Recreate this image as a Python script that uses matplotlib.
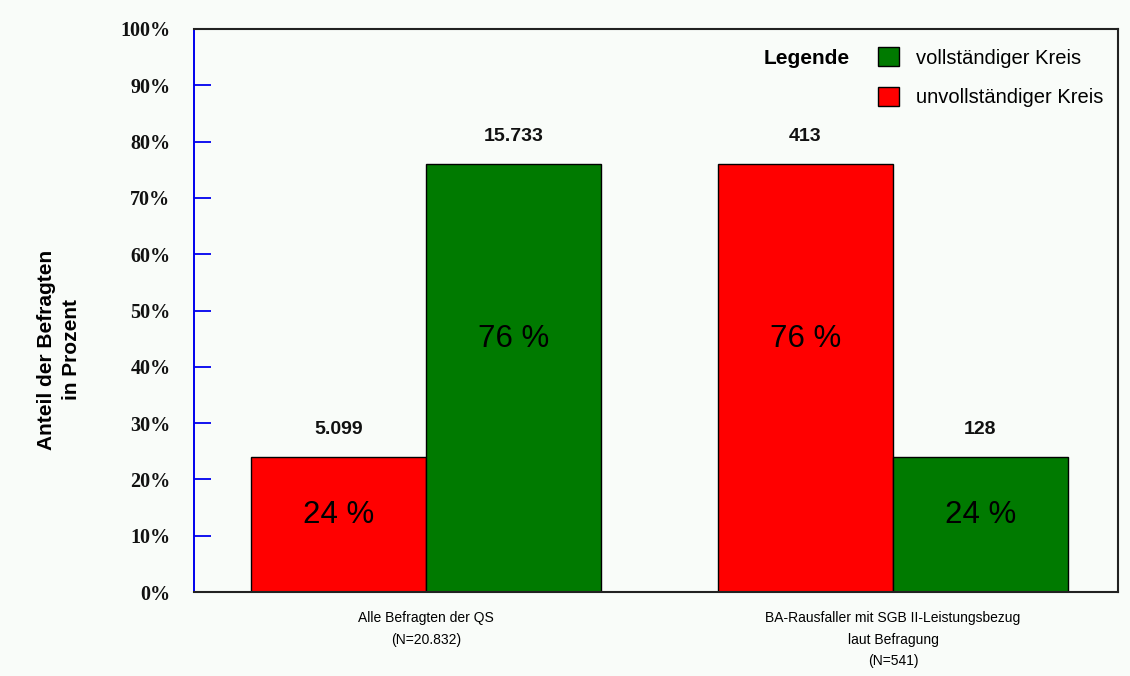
import matplotlib.pyplot as plt
import numpy as np
from matplotlib.patches import Patch

# data
groups = ["Alle Befragten der QS\n(N=20.832)",
          "BA-Rausfaller mit SGB II-Leistungsbezug\nlaut Befragung\n(N=541)"]
pct_unvoll = [24, 76]     # unvollstaendiger Kreis (red)
pct_voll = [76, 24]       # vollstaendiger Kreis (green)
n_unvoll = ["5.099", "413"]
n_voll = ["15.733", "128"]
yticks = [0, 10, 20, 30, 40, 50, 60, 70, 80, 90, 100]

RED = "#FF0000"
GREEN = "#007A00"
BG = "#F9FCF9"

plt.rcParams['font.family'] = ['Liberation Sans', 'DejaVu Sans']

fig = plt.figure(figsize=(11.3, 6.76), dpi=100, facecolor=BG)
ax = fig.add_axes([194/1130, 1-592/676, (1118-194)/1130, (592-29)/676])
ax.set_facecolor(BG)

x = np.arange(len(groups))
w = 0.375
ax.bar(x - w/2, pct_unvoll, w, color=RED, edgecolor="black", linewidth=1)
ax.bar(x + w/2, pct_voll, w, color=GREEN, edgecolor="black", linewidth=1)

# count labels above the bars and percent labels inside
for xi, (pu, pv, nu, nv) in enumerate(zip(pct_unvoll, pct_voll, n_unvoll, n_voll)):
    for xx, p, n in ((xi - w/2, pu, nu), (xi + w/2, pv, nv)):
        ax.text(xx, p + 4.9, n, ha="center", va="center", fontsize=14,
                fontweight="bold", color="#111111")
        ax.text(xx, 0.6 * p - 0.7, f"{p} %", ha="center", va="center",
                fontsize=22.5, color="black")

ax.set_xlim(-0.497, 1.482)
ax.set_ylim(0, 100)
ax.set_yticks(yticks)
ax.set_yticklabels([f"{t}%" for t in yticks], fontsize=14.5, fontweight="bold",
                   family="Liberation Serif", color="#111111")
ax.tick_params(axis="y", direction="in", length=12, width=1.3, color="#0000EE", pad=17)
ax.set_xticks(x)
ax.set_xticklabels(groups, fontsize=10, linespacing=1.65)
ax.tick_params(axis="x", length=0, pad=14)
for lbl in ax.get_xticklabels():
    lbl.set_verticalalignment("top")

ax.spines["left"].set_color("#0000EE")
ax.spines["left"].set_linewidth(1.4)
for s in ("top", "right", "bottom"):
    ax.spines[s].set_color("#222222")
    ax.spines[s].set_linewidth(1.5)

fig.text(59/1130, 1-350/676, "Anteil der Befragten\nin Prozent", rotation=90,
         ha="center", va="center", fontsize=15, fontweight="bold", linespacing=1.4)

# legend
handles = [Patch(facecolor=GREEN, edgecolor="black", label="vollständiger Kreis"),
           Patch(facecolor=RED, edgecolor="black", label="unvollständiger Kreis")]
fig.legend(handles=handles, loc="upper left", bbox_to_anchor=(878/1130, 1-47/676),
           frameon=False, fontsize=14.5, handlelength=1.05, handleheight=1.1,
           handletextpad=0.85, labelspacing=0.95, borderpad=0, borderaxespad=0)
fig.text(807/1130, 1-58/676, "Legende", ha="center", va="center",
         fontsize=15, fontweight="bold")

fig.savefig("out.png", dpi=100, facecolor=BG)
